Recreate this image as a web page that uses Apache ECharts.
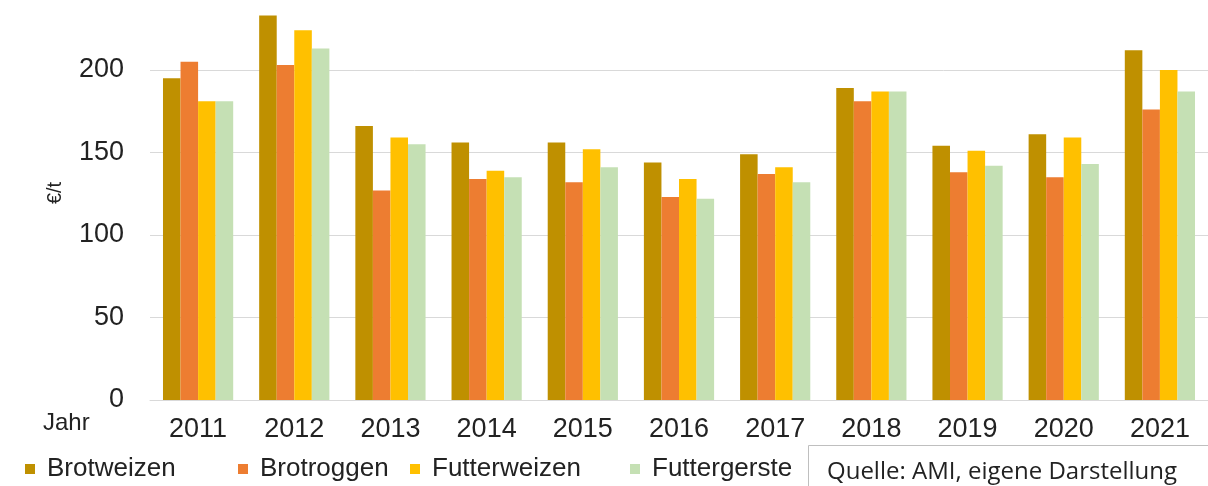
<!DOCTYPE html>
<html>
<head>
<meta charset="utf-8">
<script src="https://cdn.jsdelivr.net/npm/echarts@6/dist/echarts.min.js"></script>
<style>
  html, body { margin: 0; padding: 0; background: #fff; }
  #chart { width: 1208px; height: 486px; }
</style>
</head>
<body>
<div id="chart"></div>
<script>
// Jahre und Preise in €/t
var years = ['2011', '2012', '2013', '2014', '2015', '2016', '2017', '2018', '2019', '2020', '2021'];
var brotweizen   = [195, 233, 166, 156, 156, 144, 149, 189, 154, 161, 212];
var brotroggen   = [205, 203, 127, 134, 132, 123, 137, 181, 138, 135, 176];
var futterweizen = [181, 224, 159, 139, 152, 134, 141, 187, 151, 159, 200];
var futtergerste = [181, 213, 155, 135, 141, 122, 132, 187, 142, 143, 187];

var names  = ['Brotweizen', 'Brotroggen', 'Futterweizen', 'Futtergerste'];
var colors = ['#BF9000', '#ED7D31', '#FFC000', '#C5E0B4'];
var values = [brotweizen, brotroggen, futterweizen, futtergerste];
var legendLeft = [25, 238, 410, 630];

var txt = '#222';
var font = 'Liberation Sans, Arial, sans-serif';

var chart = echarts.init(document.getElementById('chart'));

var series = names.map(function (n, i) {
    return {
        name: n,
        type: 'bar',
        data: values[i],
        barGap: '0%',
        barCategoryGap: '27%',
        itemStyle: { color: colors[i] },
        animation: false
    };
});

var legends = names.map(function (n, i) {
    return {
        data: [n],
        left: legendLeft[i],
        top: 456,
        padding: 0,
        icon: 'rect',
        itemWidth: 10,
        itemHeight: 10,
        selectedMode: false,
        textStyle: { color: txt, fontSize: 26, fontFamily: font, padding: [0, 0, 0, 7] }
    };
});

var option = {
    backgroundColor: '#fff',
    animation: false,
    grid: { left: 150, right: -5, top: 0, bottom: 86 },
    legend: legends,
    xAxis: {
        type: 'category',
        data: years,
        axisLine: { lineStyle: { color: '#D9D9D9', width: 1 } },
        axisTick: { show: false },
        axisLabel: { color: txt, fontSize: 27, fontFamily: font, margin: 16 }
    },
    yAxis: {
        type: 'value',
        min: 0,
        max: 242.4,
        interval: 50,
        axisLine: { show: false },
        axisTick: { show: false },
        splitLine: { showMaxLine: false, lineStyle: { color: '#D9D9D9', width: 1 } },
        axisLabel: { showMaxLabel: false, color: txt, fontSize: 27, fontFamily: font, margin: 26 }
    },
    graphic: [
        {
            type: 'text', x: 55, y: 193, rotation: Math.PI / 2,
            style: { text: '€/t', fill: txt, font: '20px ' + font, align: 'center', verticalAlign: 'middle' }
        },
        {
            type: 'text', x: 43, y: 423,
            style: { text: 'Jahr', fill: txt, font: '24px ' + font, align: 'left', verticalAlign: 'middle' }
        },
        {
            type: 'rect', shape: { x: 808.5, y: 445.5, width: 420, height: 60 },
            style: { fill: '#fff', stroke: '#BFBFBF', lineWidth: 1 }
        },
        {
            type: 'text', x: 827, y: 472,
            style: { text: 'Quelle: AMI, eigene Darstellung', fill: txt, font: '24px Open Sans, sans-serif', align: 'left', verticalAlign: 'middle' }
        }
    ],
    series: series
};

chart.setOption(option);
</script>
</body>
</html>
